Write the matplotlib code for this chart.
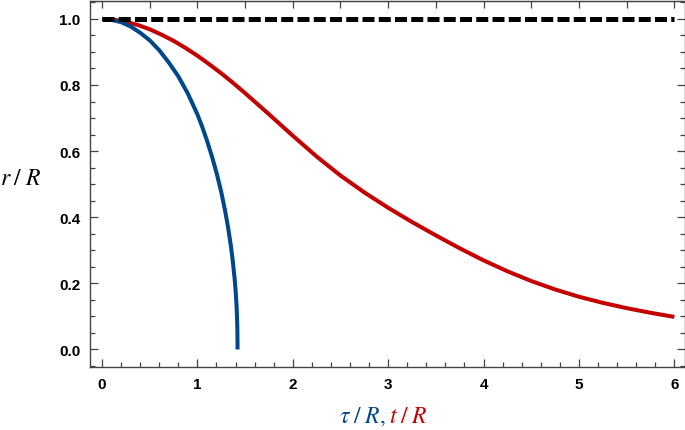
import numpy as np
import matplotlib
matplotlib.use('Agg')
import matplotlib.pyplot as plt
from matplotlib.ticker import MultipleLocator

# proper time curve (blue)
tau = [0, 0.1, 0.2, 0.3, 0.4, 0.5, 0.6, 0.7, 0.8, 0.9, 1.0, 1.05, 1.1, 1.15, 1.2,
       1.25, 1.29, 1.32, 1.35, 1.37, 1.39, 1.40, 1.41, 1.415, 1.419, 1.421]
r_tau = [1.0, 0.997, 0.99, 0.977, 0.958, 0.935, 0.905, 0.868, 0.826, 0.774, 0.711,
         0.674, 0.632, 0.586, 0.535, 0.476, 0.42, 0.372, 0.315, 0.27, 0.215, 0.18,
         0.135, 0.1, 0.06, 0.0]

# coordinate time curve (red)
t = [0, 0.125, 0.25, 0.375, 0.5, 0.625, 0.75, 0.875, 1.0, 1.125, 1.25, 1.375, 1.5,
     1.75, 2.0, 2.25, 2.5, 2.75, 3.0, 3.25, 3.5, 3.75, 4.0, 4.25, 4.5, 4.75, 5.0,
     5.25, 5.5, 5.75, 6.0]
r_t = [1.0, 0.9975, 0.991, 0.9815, 0.9685, 0.952, 0.9335, 0.912, 0.8885, 0.8625,
       0.8353, 0.806, 0.7753, 0.7115, 0.6465, 0.5835, 0.526, 0.475, 0.4285, 0.3855,
       0.345, 0.306, 0.2695, 0.2365, 0.207, 0.1815, 0.1595, 0.141, 0.125, 0.111,
       0.0985]

# horizontal reference line r/R = 1
linha_x = [0, 6]
linha_y = [1, 1]

azul = '#00478c'
vermelho = '#c40000'

plt.rcParams['mathtext.fontset'] = 'stix'

fig = plt.figure(figsize=(6.85, 4.31), dpi=100)
W, H = 685, 431
ax = fig.add_axes([90 / W, (H - 368) / H, (685.4 - 90) / W, (368 - 2) / H])

ax.plot(tau, r_tau, color=azul, lw=2.9, solid_capstyle='butt', solid_joinstyle='round', zorder=3)
ax.plot(t, r_t, color=vermelho, lw=2.9, solid_capstyle='butt', solid_joinstyle='round', zorder=2)
ax.plot(linha_x, linha_y, color='black', lw=3.6, dashes=(2.4, 0.85),
        dash_capstyle='butt', zorder=4)

ax.set_xlim(-0.126, 6.116)
ax.set_ylim(-0.053, 1.054)

ax.xaxis.set_major_locator(MultipleLocator(1))
ax.xaxis.set_minor_locator(MultipleLocator(0.2))
ax.yaxis.set_major_locator(MultipleLocator(0.2))
ax.yaxis.set_minor_locator(MultipleLocator(0.05))
ax.yaxis.set_major_formatter(plt.FormatStrFormatter('%.1f'))

ax.tick_params(which='both', direction='in', color='#444444', width=0.9,
               left=True, right=True, bottom=True, top=False)
ax.tick_params(which='major', length=6, pad=7)
ax.tick_params(which='minor', length=3.5)

for s in ax.spines.values():
    s.set_color('#444444')
    s.set_linewidth(1)

topo = ax.secondary_xaxis('top')
topo.xaxis.set_major_locator(MultipleLocator(0.5))
topo.tick_params(direction='in', length=5, color='#444444', width=0.9, labeltop=False)
topo.spines['top'].set_color('#444444')

for lab in ax.get_xticklabels() + ax.get_yticklabels():
    lab.set_fontfamily('Liberation Sans')
    lab.set_fontweight('bold')
    lab.set_fontsize(11)

fig.text(0.0, (H - 185) / H, r'$r\;/\;R$', fontsize=17, ha='left', va='baseline')
fig.text(386 / W, (H - 423) / H, r'$\tau\;/\;R,$', fontsize=17, color=azul,
         ha='right', va='baseline')
fig.text(389 / W, (H - 423) / H, r'$t\;/\;R$', fontsize=17, color=vermelho,
         ha='left', va='baseline')

plt.savefig('out.png', dpi=100)
